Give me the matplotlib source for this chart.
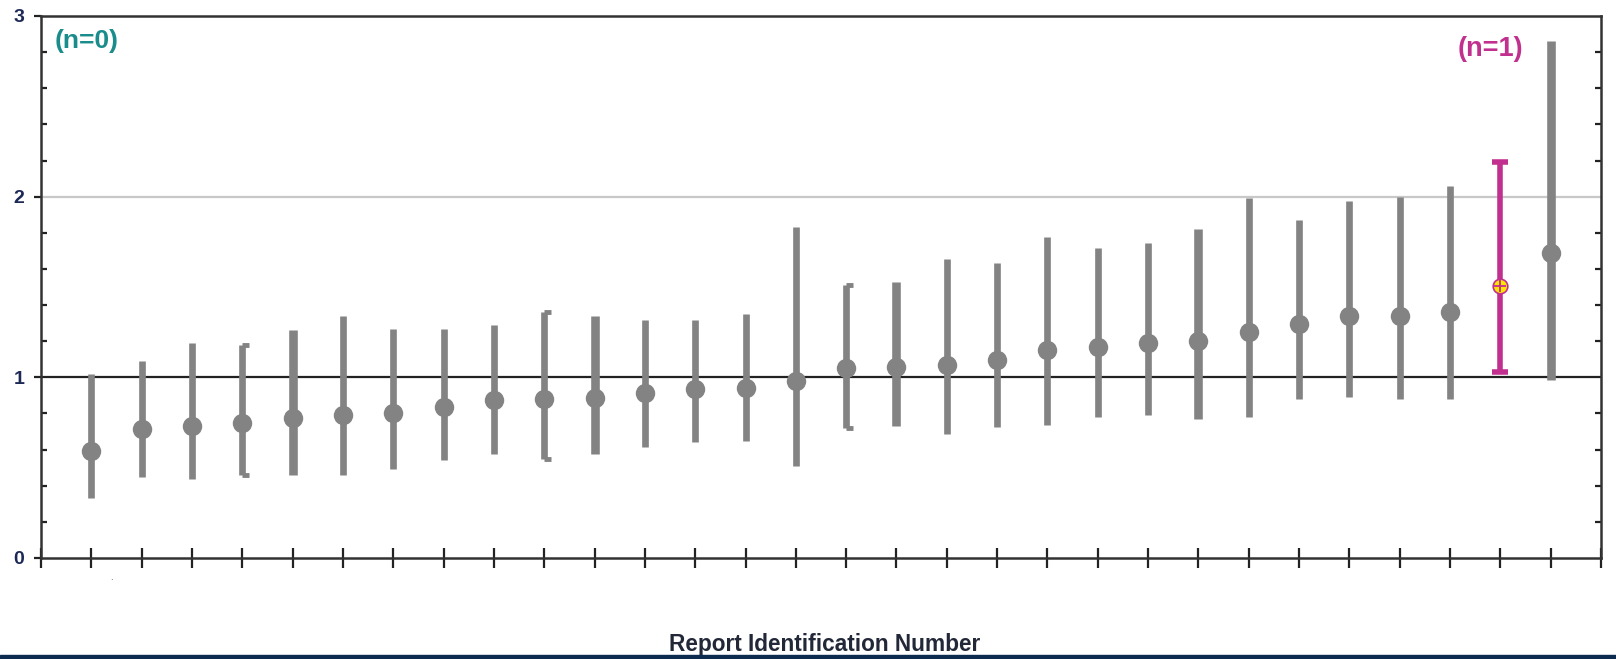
import matplotlib
matplotlib.use("Agg")
import matplotlib.pyplot as plt
from matplotlib.ticker import MultipleLocator

# ---- data ----
report_ids = list(range(1, 31))
estimate = [0.594, 0.714, 0.73, 0.75, 0.777, 0.794, 0.80, 0.834, 0.874, 0.88,
            0.886, 0.914, 0.937, 0.943, 0.977, 1.05, 1.057, 1.07, 1.097, 1.154,
            1.166, 1.19, 1.20, 1.25, 1.297, 1.337, 1.337, 1.36, 1.503, 1.686]
upper = [1.02, 1.09, 1.19, 1.18, 1.26, 1.34, 1.27, 1.27, 1.29, 1.36,
         1.34, 1.32, 1.32, 1.35, 1.834, 1.51, 1.526, 1.657, 1.634, 1.777,
         1.714, 1.743, 1.823, 1.994, 1.87, 1.977, 2.0, 2.057, 2.19, 2.863]
lower = [0.33, 0.45, 0.44, 0.46, 0.46, 0.46, 0.49, 0.54, 0.577, 0.55,
         0.577, 0.617, 0.64, 0.65, 0.51, 0.72, 0.73, 0.686, 0.726, 0.737,
         0.78, 0.794, 0.77, 0.78, 0.88, 0.89, 0.88, 0.88, 1.03, 0.983]
highlight_id = 29
label_left = "(n=0)"
label_right = "(n=1)"
xlabel = "Report Identification Number"

# ---- styles ----
thick_ids = {5, 11, 17, 23, 30}
bracket_ids = {4, 10, 16}
gray = "#838383"
magenta = "#c2308f"

fig = plt.figure(figsize=(16.16, 6.59), dpi=100)
ax = fig.add_axes([41/1616, 1 - 558/659, 1560/1616, 542/659])

for i, x in enumerate(report_ids):
    if x == highlight_id:
        ax.errorbar([x], [estimate[i]], yerr=[[estimate[i] - lower[i]], [upper[i] - estimate[i]]],
                    fmt='none', ecolor=magenta, elinewidth=4.0, capsize=6, capthick=4.0, zorder=4)
        ax.plot([x], [estimate[i]], marker='o', ms=10.5, mfc='#ffe600', mec=magenta, mew=1.2, zorder=5)
        ax.plot([x], [estimate[i]], marker='+', ms=9, mec=magenta, mew=1.3, zorder=6)
        continue
    lw = 6.2 if x in thick_ids else 4.8
    ax.plot([x, x], [lower[i], upper[i]], color=gray, lw=lw, solid_capstyle='butt', zorder=3)
    if x in bracket_ids:
        for yv in (lower[i], upper[i]):
            ax.plot([x, x + 0.13], [yv, yv], color=gray, lw=3.5, solid_capstyle='butt', zorder=3)
    ax.plot([x], [estimate[i]], marker='o', ms=14, color=gray, mew=0, zorder=4)

ax.axhline(1, color='#222222', lw=1.6, zorder=2)
ax.axhline(2, color='#c8c8c8', lw=1.6, zorder=1)

ax.set_xlim(0, 31)
ax.set_ylim(0, 3)
ax.set_xticks(range(0, 32))
ax.set_xticklabels([])
ax.tick_params(axis='x', direction='inout', length=14, width=1.6, color='#222222')
ax.set_yticks([0, 1, 2, 3])
ax.yaxis.set_minor_locator(MultipleLocator(0.2))
ax.tick_params(axis='y', which='major', direction='out', length=5, width=1.6,
               color='#222222', left=True, right=False, pad=7)
ax.tick_params(axis='y', which='minor', direction='in', length=4, width=1.6,
               color='#222222', left=True, right=True)
for lab in ax.get_yticklabels():
    lab.set_fontweight('bold')
    lab.set_color('#1c2957')
    lab.set_fontsize(14)
    lab.set_family('Liberation Sans')

for s in ax.spines.values():
    s.set_color('#333333')
    s.set_linewidth(1.8)

ax.text(0.28, 2.86, label_left, color='#1a8c8c', fontsize=19, fontweight='bold',
        family='Liberation Sans', ha='left', va='center')
ax.text(28.8, 2.82, label_right, color=magenta, fontsize=19.5, fontweight='bold',
        family='Liberation Sans', ha='center', va='center')

fig.text(825/1616, 1 - 645/659, xlabel, ha='center', va='center', fontsize=16.3,
         fontweight='bold', color='#232838', family='Liberation Sans')
fig.text(111/1616, 1 - 582/659, '.', ha='center', va='bottom', fontsize=6, color='#333333')

# bottom navy band
fig.add_artist(plt.Rectangle((0, 0), 1, 4/659, transform=fig.transFigure,
                             color='#0d2b4e', zorder=10))

fig.savefig("out.png", dpi=100)
